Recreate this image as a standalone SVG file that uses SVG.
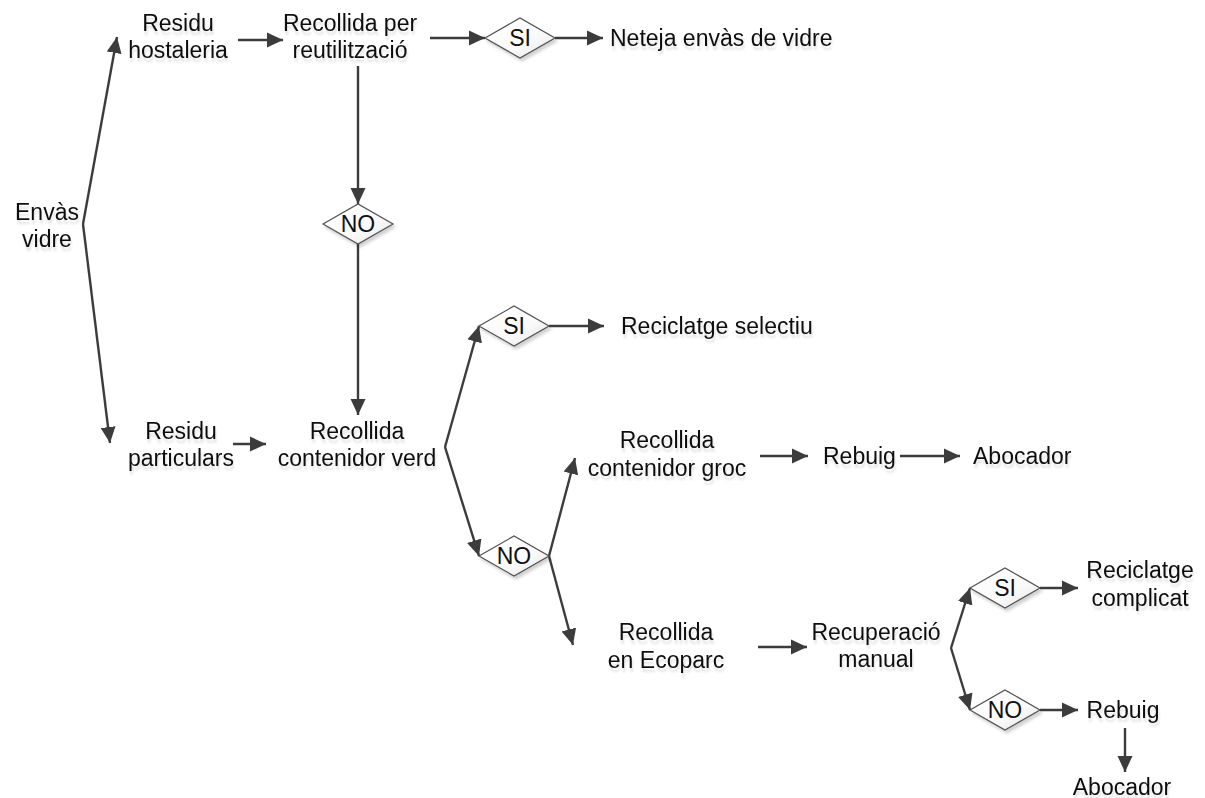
<svg xmlns="http://www.w3.org/2000/svg" width="1205" height="798" viewBox="0 0 1205 798">
  <defs>
    <style>
      .lbl { font-family: "Liberation Sans", Arial, sans-serif; font-size: 23px; fill: #111111; text-anchor: middle; }
      .start { text-anchor: start; }
      .conn { fill: none; stroke: #3c3c3c; stroke-width: 2.4; marker-end: url(#arrow); }
      .dia { fill: url(#diaFill); stroke: #505050; stroke-width: 1.2; }
    </style>
    <marker id="arrow" markerUnits="userSpaceOnUse" markerWidth="18" markerHeight="16" refX="16" refY="8" orient="auto">
      <path d="M0,0.5 L16,8 L0,15.5 Z" fill="#3c3c3c"/>
    </marker>
    <linearGradient id="diaFill" x1="0" y1="0" x2="1" y2="1">
      <stop offset="0" stop-color="#ffffff"/>
      <stop offset="0.6" stop-color="#fafafa"/>
      <stop offset="1" stop-color="#e2e2e2"/>
    </linearGradient>
    <filter id="textShade" x="-10%" y="-30%" width="120%" height="170%">
      <feGaussianBlur in="SourceAlpha" stdDeviation="1"/>
      <feOffset dx="1" dy="4" result="off"/>
      <feFlood flood-color="#000000" flood-opacity="0.12"/>
      <feComposite in2="off" operator="in" result="shade"/>
      <feMerge><feMergeNode in="shade"/><feMergeNode in="SourceGraphic"/></feMerge>
    </filter>
    <filter id="diaShade" x="-20%" y="-20%" width="140%" height="150%">
      <feGaussianBlur in="SourceAlpha" stdDeviation="1.5"/>
      <feOffset dx="2" dy="3" result="off"/>
      <feFlood flood-color="#000000" flood-opacity="0.18"/>
      <feComposite in2="off" operator="in" result="shade"/>
      <feMerge><feMergeNode in="shade"/><feMergeNode in="SourceGraphic"/></feMerge>
    </filter>
    <path id="diamond" d="M-35,0 L0,-20 L35,0 L0,20 Z"/>
  </defs>

  <rect width="1205" height="798" fill="#ffffff"/>

  <!-- connectors -->
  <g id="connectors">
    <path class="conn" d="M83,224 L117,37"/>
    <path class="conn" d="M83,224 L110,443"/>
    <path class="conn" d="M238,40 L283,40"/>
    <path class="conn" d="M358,66 L358,204"/>
    <path class="conn" d="M430,38 L485,38"/>
    <path class="conn" d="M555,38 L603,38"/>
    <path class="conn" d="M358,244 L358,415"/>
    <path class="conn" d="M233,444 L266,444"/>
    <path class="conn" d="M445,447 L479,326"/>
    <path class="conn" d="M445,447 L479,556"/>
    <path class="conn" d="M549,326 L604,326"/>
    <path class="conn" d="M549,556 L575,458"/>
    <path class="conn" d="M549,556 L573,645"/>
    <path class="conn" d="M760,456 L808,456"/>
    <path class="conn" d="M900,456 L960,456"/>
    <path class="conn" d="M758,647 L807,647"/>
    <path class="conn" d="M951,648 L970,588"/>
    <path class="conn" d="M951,648 L970,710"/>
    <path class="conn" d="M1040,588 L1078,588"/>
    <path class="conn" d="M1040,710 L1078,710"/>
    <path class="conn" d="M1125,728 L1125,772"/>
  </g>

  <!-- decision diamonds -->
  <g id="dec-si-reutil" transform="translate(520,38)">
    <use href="#diamond" class="dia" filter="url(#diaShade)"/>
    <text class="lbl" y="8">SI</text>
  </g>
  <g id="dec-no-reutil" transform="translate(358,224)">
    <use href="#diamond" class="dia" filter="url(#diaShade)"/>
    <text class="lbl" y="8">NO</text>
  </g>
  <g id="dec-si-verd" transform="translate(514,326)">
    <use href="#diamond" class="dia" filter="url(#diaShade)"/>
    <text class="lbl" y="8">SI</text>
  </g>
  <g id="dec-no-verd" transform="translate(514,556)">
    <use href="#diamond" class="dia" filter="url(#diaShade)"/>
    <text class="lbl" y="8">NO</text>
  </g>
  <g id="dec-si-manual" transform="translate(1005,588)">
    <use href="#diamond" class="dia" filter="url(#diaShade)"/>
    <text class="lbl" y="8">SI</text>
  </g>
  <g id="dec-no-manual" transform="translate(1005,710)">
    <use href="#diamond" class="dia" filter="url(#diaShade)"/>
    <text class="lbl" y="8">NO</text>
  </g>

  <!-- text nodes -->
  <g filter="url(#textShade)">
    <g id="envas-vidre">
      <text class="lbl" x="47" y="220">Envàs</text>
      <text class="lbl" x="47" y="247">vidre</text>
    </g>
    <g id="residu-hostaleria">
      <text class="lbl" x="178" y="31">Residu</text>
      <text class="lbl" x="178" y="58">hostaleria</text>
    </g>
    <g id="recollida-reutilitzacio">
      <text class="lbl" x="350" y="31">Recollida per</text>
      <text class="lbl" x="350" y="58">reutilització</text>
    </g>
    <g id="neteja">
      <text class="lbl start" x="610" y="46">Neteja envàs de vidre</text>
    </g>
    <g id="residu-particulars">
      <text class="lbl" x="181" y="439">Residu</text>
      <text class="lbl" x="181" y="466">particulars</text>
    </g>
    <g id="recollida-verd">
      <text class="lbl" x="357" y="439">Recollida</text>
      <text class="lbl" x="357" y="466">contenidor verd</text>
    </g>
    <g id="reciclatge-selectiu">
      <text class="lbl start" x="621" y="334">Reciclatge selectiu</text>
    </g>
    <g id="recollida-groc">
      <text class="lbl" x="667" y="448">Recollida</text>
      <text class="lbl" x="667" y="476">contenidor groc</text>
    </g>
    <g id="rebuig-groc">
      <text class="lbl start" x="823" y="464">Rebuig</text>
    </g>
    <g id="abocador-groc">
      <text class="lbl start" x="973" y="464">Abocador</text>
    </g>
    <g id="recollida-ecoparc">
      <text class="lbl" x="666" y="640">Recollida</text>
      <text class="lbl" x="666" y="668">en Ecoparc</text>
    </g>
    <g id="recuperacio-manual">
      <text class="lbl" x="876" y="640">Recuperació</text>
      <text class="lbl" x="876" y="667">manual</text>
    </g>
    <g id="reciclatge-complicat">
      <text class="lbl" x="1140" y="578">Reciclatge</text>
      <text class="lbl" x="1140" y="606">complicat</text>
    </g>
    <g id="rebuig-ecoparc">
      <text class="lbl" x="1123" y="718">Rebuig</text>
    </g>
    <g id="abocador-ecoparc">
      <text class="lbl" x="1122" y="795">Abocador</text>
    </g>
  </g>
</svg>
